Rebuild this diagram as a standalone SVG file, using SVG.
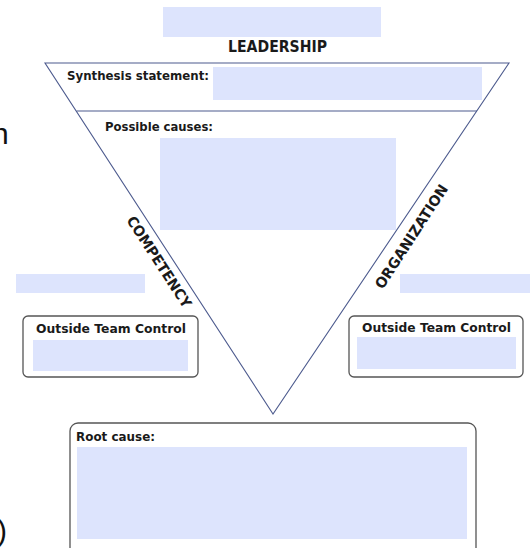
<svg xmlns="http://www.w3.org/2000/svg" width="530" height="548" viewBox="0 0 530 548">
  <style>
    .field { fill: #dde4fd; }
    .lbl { font-family: "DejaVu Sans", Verdana, sans-serif; font-weight: bold; fill: #1a1a1a; }
    .frame { fill: #ffffff; stroke: #555555; stroke-width: 1.3; }
    .edge { fill: none; stroke: #4d5b8e; stroke-width: 1.1; }
    .side { font-family: "Liberation Sans", Arial, sans-serif; fill: #111111; font-size: 30px; }
  </style>
  <rect width="530" height="548" fill="#ffffff"/>

  <!-- clipped fragments of side text -->
  <text class="side" x="-8" y="144">n</text>
  <text class="side" x="-3" y="541">)</text>

  <!-- leadership heading -->
  <g id="leadership">
    <rect class="field" x="163" y="7" width="218" height="30"/>
    <text class="lbl" x="228" y="52" font-size="15" textLength="99" lengthAdjust="spacingAndGlyphs">LEADERSHIP</text>
  </g>

  <!-- inverted triangle and divider -->
  <g id="connectors">
    <polygon class="edge" points="45,63 509,63 273,414"/>
    <line class="edge" x1="76.5" y1="111" x2="477" y2="111"/>
  </g>

  <g id="synthesis">
    <text class="lbl" x="67" y="80" font-size="12.8" textLength="142" lengthAdjust="spacingAndGlyphs">Synthesis statement:</text>
    <rect class="field" x="213" y="67" width="269" height="33"/>
  </g>

  <g id="causes">
    <text class="lbl" x="105" y="131" font-size="12.8" textLength="108" lengthAdjust="spacingAndGlyphs">Possible causes:</text>
    <rect class="field" x="160" y="138" width="236" height="92"/>
  </g>

  <g id="competency">
    <text class="lbl" font-size="14.5" text-anchor="middle" transform="translate(159,262) rotate(57)" x="0" y="5" textLength="106" lengthAdjust="spacingAndGlyphs">COMPETENCY</text>
    <rect class="field" x="16" y="274" width="129" height="19"/>
  </g>

  <g id="organization">
    <text class="lbl" font-size="14.5" text-anchor="middle" transform="translate(411.5,236.5) rotate(-57)" x="0" y="5" textLength="121" lengthAdjust="spacingAndGlyphs">ORGANIZATION</text>
    <rect class="field" x="400" y="274" width="130" height="19"/>
  </g>

  <g id="outside-left">
    <rect class="frame" x="23" y="316" width="175" height="61" rx="5"/>
    <text class="lbl" x="36" y="333" font-size="13" textLength="150" lengthAdjust="spacingAndGlyphs">Outside Team Control</text>
    <rect class="field" x="33" y="340" width="155" height="31"/>
  </g>

  <g id="outside-right">
    <rect class="frame" x="349" y="316" width="174" height="61" rx="5"/>
    <text class="lbl" x="362" y="332" font-size="13" textLength="149" lengthAdjust="spacingAndGlyphs">Outside Team Control</text>
    <rect class="field" x="357" y="337" width="159" height="32"/>
  </g>

  <g id="root-cause">
    <rect class="frame" x="70" y="423" width="406" height="140" rx="8"/>
    <text class="lbl" x="76" y="441" font-size="12.8" textLength="79" lengthAdjust="spacingAndGlyphs">Root cause:</text>
    <rect class="field" x="77" y="447" width="390" height="92"/>
  </g>
</svg>
